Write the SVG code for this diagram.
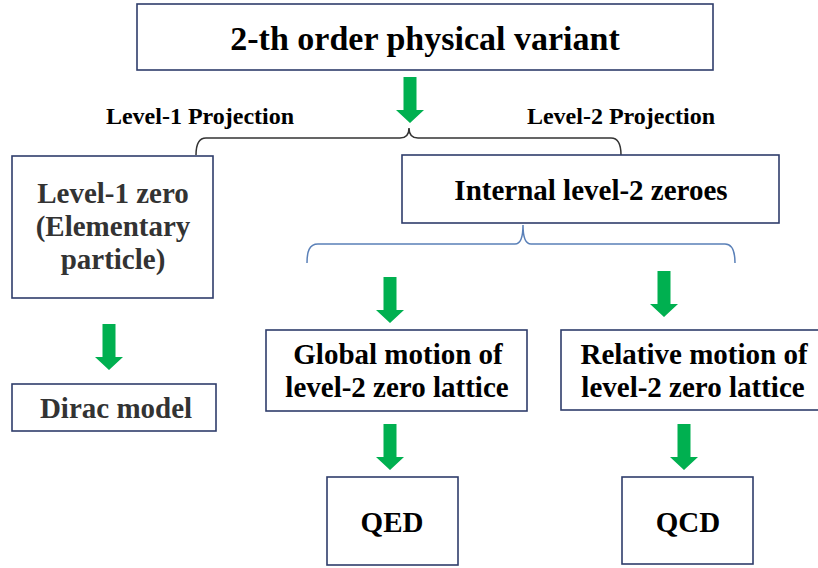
<svg xmlns="http://www.w3.org/2000/svg" width="818" height="568" viewBox="0 0 818 568">
<defs>
<style>
.box{fill:#fff;stroke:#2f3d6b;stroke-width:1.6}
.t{font-family:"Liberation Serif","Times New Roman",serif;font-weight:bold;text-anchor:middle;fill:#000}
.g{fill:#333}
.arrow{fill:#00b050}
.brace{fill:none;stroke-width:1.5}
</style>
<path id="arr" d="M-6.5,0 H6.5 V33 H14 L0,46 L-14,33 H-6.5 Z"/>
</defs>
<rect width="818" height="568" fill="#fff"/>
<g id="connectors">
<use href="#arr" class="arrow" transform="translate(410,77)"/>
<path class="brace" stroke="#333" d="M196,155 C196,145 198,138 206,138 L400,138 C406,138 409,134 409,128 C409,134 412,138 418,138 L611,138 C619,138 621,145 621,155"/>
<path class="brace" stroke="#5a80b8" d="M307,263 C307,252 309,244 318,244 L515,244 C520,244 523,238 523,225 C523,238 526,244 531,244 L725,244 C733,244 735,252 735,263"/>
<use href="#arr" class="arrow" transform="translate(109,324)"/>
<use href="#arr" class="arrow" transform="translate(390,277)"/>
<use href="#arr" class="arrow" transform="translate(664,271)"/>
<use href="#arr" class="arrow" transform="translate(390,424)"/>
<use href="#arr" class="arrow" transform="translate(684,424)"/>
</g>
<g id="title">
<rect class="box" x="137" y="4" width="576" height="66"/>
<text class="t" x="425" y="50" font-size="34">2-th order physical variant</text>
</g>
<g id="label-level1">
<text class="t" x="200" y="124" font-size="24">Level-1 Projection</text>
</g>
<g id="label-level2">
<text class="t" x="621" y="124" font-size="24">Level-2 Projection</text>
</g>
<g id="level1zero">
<rect class="box" x="12" y="156" width="201" height="142"/>
<text class="t g" x="113" y="203" font-size="29">Level-1 zero</text>
<text class="t g" x="113" y="236" font-size="29">(Elementary</text>
<text class="t g" x="113" y="269" font-size="29">particle)</text>
</g>
<g id="internal">
<rect class="box" x="402" y="155" width="377" height="68"/>
<text class="t" x="591" y="200" font-size="29">Internal level-2 zeroes</text>
</g>
<g id="dirac">
<rect class="box" x="12" y="384" width="204" height="47"/>
<text class="t g" x="116" y="418" font-size="29">Dirac model</text>
</g>
<g id="global">
<rect class="box" x="266" y="330" width="261" height="81"/>
<text class="t" x="398" y="364" font-size="29">Global motion of</text>
<text class="t" x="397" y="397" font-size="29">level-2 zero lattice</text>
</g>
<g id="relative">
<rect class="box" x="561" y="330" width="262" height="80"/>
<text class="t" x="694" y="364" font-size="29">Relative motion of</text>
<text class="t" x="693" y="397" font-size="29">level-2 zero lattice</text>
</g>
<g id="qed">
<rect class="box" x="327" y="477" width="131" height="88"/>
<text class="t" x="392" y="532" font-size="29">QED</text>
</g>
<g id="qcd">
<rect class="box" x="622" y="477" width="131" height="87"/>
<text class="t" x="688" y="532" font-size="29">QCD</text>
</g>
</svg>
